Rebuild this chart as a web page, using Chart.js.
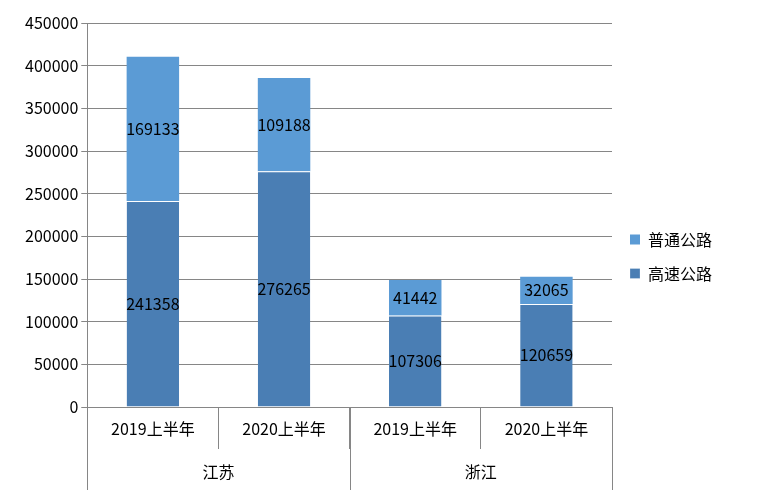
<!DOCTYPE html>
<html><head><meta charset="utf-8">
<script src="https://cdn.jsdelivr.net/npm/chart.js@4"></script>
<style>html,body{margin:0;padding:0;background:#fff}#w{width:780px;height:498px}</style>
</head><body><div id="w"><canvas id="c"></canvas></div>
<script>
const categories = ['2019上半年','2020上半年','2019上半年','2020上半年'];
const groups = ['江苏','浙江'];
const highway = [241358,276265,107306,120659];
const ordinary = [169133,109188,41442,32065];
const yTicks = [0,50000,100000,150000,200000,250000,300000,350000,400000,450000];
const FONT = '"Noto Sans CJK SC", "DejaVu Sans", sans-serif';

const extra = {
  id:'extra',
  afterDatasetsDraw(chart){
    const ctx = chart.ctx;
    ctx.save();
    ctx.font = '16px '+FONT; ctx.fillStyle='#000'; ctx.textAlign='center'; ctx.textBaseline='middle';
    chart.data.datasets.forEach((ds,di)=>{
      chart.getDatasetMeta(di).data.forEach((bar,i)=>{
        const top = Math.min(bar.y,bar.base), bot = Math.max(bar.y,bar.base);
        ctx.fillText(String(ds.data[i]), bar.x, (top+bot)/2);
      });
    });
    const a = chart.chartArea;
    const step = (a.right-a.left)/categories.length;
    ctx.strokeStyle='#868686'; ctx.lineWidth=1;
    [0,2,4].forEach(k=>{
      const x = Math.round(a.left+k*step)+0.5;
      ctx.beginPath(); ctx.moveTo(x,a.bottom); ctx.lineTo(x,a.bottom+83); ctx.stroke();
    });
    groups.forEach((g,k)=>{
      ctx.fillText(g, a.left+(2*k+1)*step, a.bottom+65);
    });
    ctx.restore();
  }
};

new Chart(document.getElementById('c'),{
  type:'bar',
  data:{labels:categories,datasets:[
    {label:'高速公路',data:highway,backgroundColor:'#4a7eb4',borderColor:'#fff',borderWidth:{top:1},categoryPercentage:0.4,barPercentage:1},
    {label:'普通公路',data:ordinary,backgroundColor:'#5b9bd5',borderColor:'#fff',borderWidth:0,categoryPercentage:0.4,barPercentage:1}
  ]},
  options:{
    responsive:true,maintainAspectRatio:false,animation:false,
    layout:{padding:{top:23,left:22,right:20,bottom:8}},
    plugins:{
      legend:{position:'right',reverse:true,labels:{font:{family:FONT,size:16},color:'#000',boxWidth:10,boxHeight:10,padding:18},
        afterFit(l){}},
      tooltip:{enabled:false}
    },
    scales:{
      x:{stacked:true,offset:true,
        grid:{display:true,drawOnChartArea:false,tickLength:42,color:'#868686',offset:true},
        border:{color:'#868686'},
        ticks:{font:{family:FONT,size:16},color:'#000',padding:-30},
        afterFit(s){s.height=83;}
      },
      y:{stacked:true,min:0,max:450000,
        afterBuildTicks(s){s.ticks=yTicks.map(v=>({value:v}));},
        grid:{color:'#868686',drawTicks:true,tickLength:6},
        border:{color:'#868686'},
        ticks:{font:{family:FONT,size:16},color:'#000',callback:v=>String(v)}
      }
    }
  },
  plugins:[extra,{id:'legW',beforeInit(c){c.legend&&0;},afterInit(c){const o=c.legend.fit;c.legend.fit=function(){o.call(this);this.width=148;};}}]
});
</script></body></html>
